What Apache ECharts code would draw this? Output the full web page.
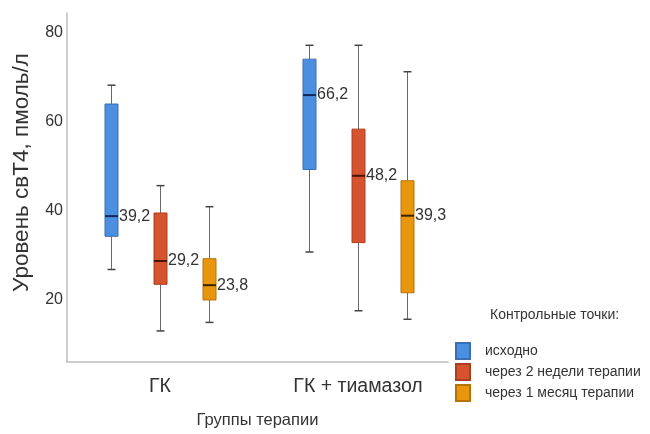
<!DOCTYPE html>
<html>
<head>
<meta charset="utf-8">
<script src="https://cdn.jsdelivr.net/npm/echarts@6/dist/echarts.min.js"></script>
<style>
html,body{margin:0;padding:0;background:#fff;}
#chart{width:650px;height:434px;}
</style>
</head>
<body>
<div id="chart"></div>
<script>
// ---- data ----
const categories = ['ГК', 'ГК + тиамазол'];
const seriesNames = ['исходно', 'через 2 недели терапии', 'через 1 месяц терапии'];
// [min, Q1, median, Q3, max] per category
const baseline = [[27.3, 34.7, 39.2, 64.2, 68.4], [31.2, 49.6, 66.2, 74.2, 77.3]];
const twoWeeks = [[13.6, 24.0, 29.2, 39.9, 46.0], [18.1, 33.3, 48.2, 58.6, 77.3]];
const oneMonth = [[15.5, 20.5, 23.8, 29.7, 41.3], [16.2, 22.1, 39.3, 47.1, 71.4]];
const yTickLabels = [20, 40, 60, 80];
const yName = 'Уровень свТ4, пмоль/л';
const xName = 'Группы терапии';
const legendTitle = 'Контрольные точки:';

// ---- styles ----
const FONT = '"Liberation Sans", Arial, sans-serif';
const fills = ['#4a8fe0', '#d6532f', '#e9960f'];
const borders = ['#3a6fb5', '#a8401f', '#b87308'];
const medianColors = ['#14285a', '#4a1208', '#3a2404'];
const boxW = 13, capW = 8, boxSpacing = 49.25;
const yMin = 6, yMax = 84.5;

const allData = [baseline, twoWeeks, oneMonth];

function fmt(v) { return v.toFixed(1).replace('.', ','); }

function makeRender(si) {
  return function (params, api) {
    const c = api.value(0);
    const off = (si - 1) * boxSpacing;
    const pLo = api.coord([c, api.value(1)]);
    const pQ1 = api.coord([c, api.value(2)]);
    const pMd = api.coord([c, api.value(3)]);
    const pQ3 = api.coord([c, api.value(4)]);
    const pHi = api.coord([c, api.value(5)]);
    const x = Math.round(pLo[0] + off) + 0.5;
    const wStyle = { stroke: '#6a6a6a', lineWidth: 1 };
    return {
      type: 'group',
      children: [
        { type: 'line', shape: { x1: x, y1: pHi[1], x2: x, y2: pQ3[1] }, style: wStyle },
        { type: 'line', shape: { x1: x, y1: pQ1[1], x2: x, y2: pLo[1] }, style: wStyle },
        { type: 'line', shape: { x1: x - capW / 2, y1: pHi[1], x2: x + capW / 2, y2: pHi[1] }, style: { stroke: '#444', lineWidth: 1.5 } },
        { type: 'line', shape: { x1: x - capW / 2, y1: pLo[1], x2: x + capW / 2, y2: pLo[1] }, style: { stroke: '#444', lineWidth: 1.5 } },
        { type: 'rect', shape: { x: x - boxW / 2, y: pQ3[1], width: boxW, height: pQ1[1] - pQ3[1] },
          style: { fill: fills[si], stroke: borders[si], lineWidth: 1 } },
        { type: 'line', shape: { x1: x - boxW / 2, y1: pMd[1], x2: x + boxW / 2, y2: pMd[1] },
          style: { stroke: medianColors[si], lineWidth: 2 } },
        { type: 'text', x: x + boxW / 2 + 1, y: pMd[1],
          style: { text: fmt(api.value(3)), fill: '#333', font: '16px ' + FONT, textVerticalAlign: 'middle', textAlign: 'left' } }
      ]
    };
  };
}

const series = seriesNames.map(function (name, si) {
  return {
    name: name,
    type: 'custom',
    xAxisIndex: 0,
    yAxisIndex: 0,
    renderItem: makeRender(si),
    itemStyle: { color: fills[si], borderColor: borders[si], borderWidth: 1 },
    encode: { x: 0, y: [1, 2, 3, 4, 5] },
    clip: false,
    data: allData[si].map(function (d, ci) { return [ci].concat(d); })
  };
});

const chart = echarts.init(document.getElementById('chart'), null, { renderer: 'canvas' });
chart.setOption({
  animation: false,
  backgroundColor: '#fff',
  textStyle: { fontFamily: FONT },
  title: {
    text: legendTitle, left: 485, top: 303,
    textStyle: { fontSize: 14, fontWeight: 'normal', color: '#333', fontFamily: FONT }
  },
  legend: {
    orient: 'vertical', left: 450, top: 337,
    icon: 'rect', itemWidth: 14, itemHeight: 16, itemGap: 3,
    textStyle: { fontSize: 14, lineHeight: 16, color: '#333', fontFamily: FONT, padding: [0, 0, 0, 10] },
    data: seriesNames
  },
  grid: [
    { left: 61, width: 396, top: 13, height: 352 },   // data grid
    { left: 67, width: 381, top: 13, height: 352 }    // frame grid
  ],
  xAxis: [
    { type: 'category', gridIndex: 0, data: categories,
      axisLine: { show: false }, axisTick: { show: false },
      axisLabel: { fontSize: 19.5, color: '#333', margin: 12, fontFamily: FONT } },
    { type: 'category', gridIndex: 1, data: categories,
      axisLine: { show: true, lineStyle: { color: '#bdbdbd', width: 1.5 } },
      axisTick: { show: false }, axisLabel: { show: false },
      name: xName, nameLocation: 'middle', nameGap: 50,
      nameTextStyle: { fontSize: 16.5, color: '#333', fontFamily: FONT } }
  ],
  yAxis: [
    { type: 'value', gridIndex: 0, min: yMin, max: yMax, show: false },
    { type: 'value', gridIndex: 1, min: yMin, max: yMax, interval: 2,
      axisLine: { show: true, lineStyle: { color: '#bdbdbd', width: 1.5 } },
      axisTick: { show: false }, splitLine: { show: false },
      axisLabel: { fontSize: 16, color: '#333', margin: 4, fontFamily: FONT,
        formatter: function (v) { return yTickLabels.indexOf(v) >= 0 ? String(v) : ''; } },
      name: yName, nameLocation: 'middle', nameRotate: 90, nameGap: 34,
      nameTextStyle: { fontSize: 22.5, color: '#333', fontFamily: FONT, padding: [0, 0, 0, 30] } }
  ],
  series: series
});
</script>
</body>
</html>
